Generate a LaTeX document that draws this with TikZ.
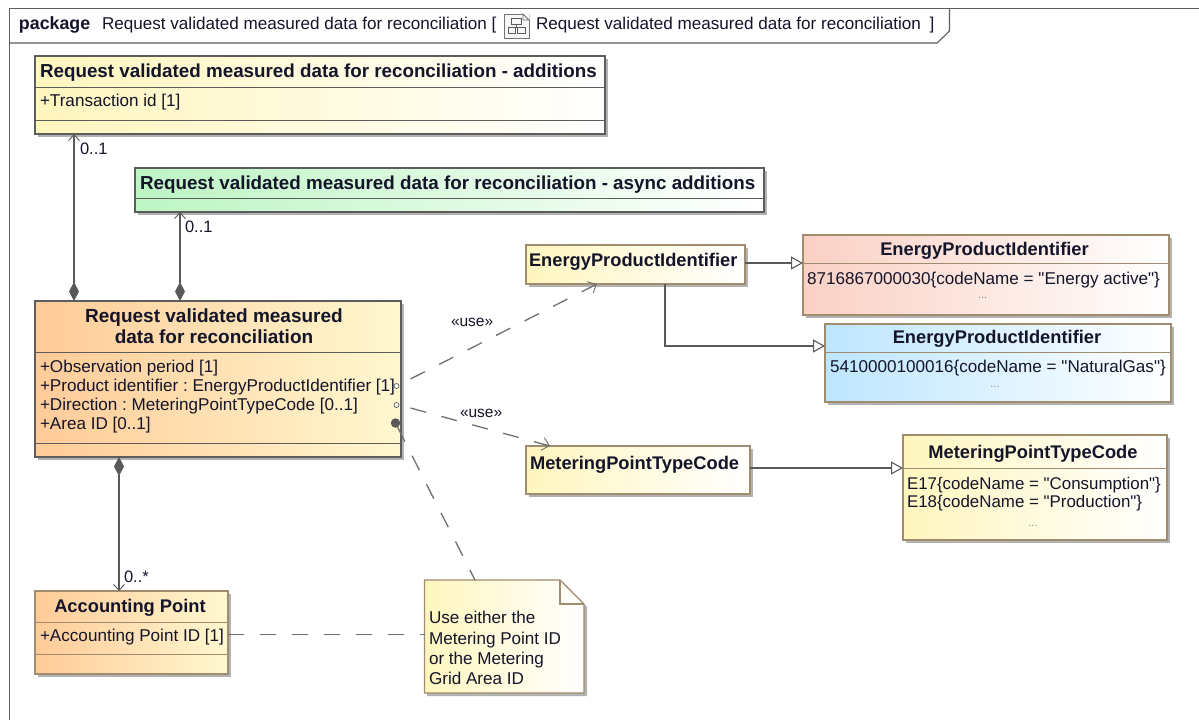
\documentclass[tikz,border=0pt]{standalone}
\usepackage{fontspec}
\setmainfont[Ligatures=TeXOff]{Liberation Sans}
\frenchspacing
\usetikzlibrary{arrows.meta,shadows,calc}
\definecolor{ink}{HTML}{14142A}
\definecolor{edgegray}{HTML}{5C5C5C}
\definecolor{edgetan}{HTML}{A08C6E}
\definecolor{conn}{HTML}{595959}
\definecolor{dashgray}{HTML}{707070}
\definecolor{yel}{HTML}{FFF6BE}
\definecolor{grn}{HTML}{BDF5C4}
\definecolor{org}{HTML}{FFCB98}
\definecolor{pale}{HTML}{FFF8D0}
\definecolor{red1}{HTML}{FAD0C4}
\definecolor{blu}{HTML}{BDE6FF}
\tikzset{
  x=1pt,y=-1pt,
  every node/.style={inner sep=0pt,outer sep=0pt,text=ink},
  umlbox/.style={draw=edgegray,line width=1.1pt,anchor=north west,
     general shadow={fill=black!30,shadow xshift=3pt,shadow yshift=-3pt}},
  tanbox/.style={umlbox,draw=edgetan},
  yelfill/.style={left color=yel,right color=white},
  grnfill/.style={left color=grn,right color=white},
  orgfill/.style={left color=org,right color=pale},
  redfill/.style={left color=red1,right color=white},
  blufill/.style={left color=blu,right color=white},
  sep/.style={edgegray,line width=1pt},
  tansep/.style={edgetan,line width=1pt},
  titletext/.style={font=\fontsize{18.8}{20.5}\selectfont\bfseries,anchor=base west},
  smalltitle/.style={font=\fontsize{18.3}{20.5}\selectfont\bfseries,anchor=base},
  bodytext/.style={font=\fontsize{17.1}{19}\selectfont,anchor=base west},
  multtext/.style={font=\fontsize{16.5}{19}\selectfont,anchor=base west},
  dotstext/.style={font=\fontsize{11}{13}\selectfont,text=black!45},
  assoc/.style={conn,line width=1.1pt},
  comp/.style={assoc,{Diamond[length=19pt,width=10pt,fill=conn]}-{Straight Barb[length=6pt,width=11pt,line width=0.9pt]}},
  usedep/.style={dashgray,line width=1.3pt,dash pattern=on 16pt off 16pt,-{Straight Barb[length=7pt,width=13pt,line width=0.9pt]}},
  notelink/.style={dashgray,line width=1.3pt,dash pattern=on 16pt off 16pt},
  gen/.style={assoc,-{Triangle[open,length=12pt,width=13pt,fill=white]}},
  port/.style={draw=edgegray,fill=white,circle,minimum size=5pt,line width=.7pt},
}
\begin{document}
\begin{tikzpicture}
\useasboundingbox (0,0) rectangle (1199,720);
\fill[white] (0,0) rectangle (1199,720);
% frame
\draw[edgegray,line width=1.1pt] (9.5,720) -- (9.5,8.5) -- (1199,8.5);
\draw[edgegray,line width=1.1pt] (9.5,43) -- (937,43) -- (949.5,31) -- (949.5,8.5);
\node[font=\fontsize{17.8}{20}\selectfont\bfseries,anchor=base west] (pkg) at (19,29) {package};
\node[bodytext] (pkgname) at (102,29) {Request validated measured data for reconciliation [};
\node[draw=black!55,fill=black!3,line width=.8pt,minimum width=25pt,minimum height=24pt] (icon) at (516.5,26) {};
\fill[white] (523,13.5) -- (529.5,13.5) -- (529.5,20) -- cycle;
\draw[black!55,line width=.8pt] (523,14) -- (523,20) -- (529,20) -- cycle;
\draw[edgegray,line width=.9pt] (511,18.5) rectangle (521,24) (508,27.5) rectangle (515.5,33) (517.5,27.5) rectangle (525,33) (516,24) -- (516,27.5);
\node[bodytext] (pkgdiag) at (536,29) {Request validated measured data for reconciliation \hspace{4pt}]};

% box 1
\node[umlbox,yelfill,minimum width=570pt,minimum height=78pt] (add) at (35,56) {};
\draw[sep] (add.west |- 0,87) -- (add.east |- 0,87);
\draw[sep] (add.west |- 0,120) -- (add.east |- 0,120);
\node[titletext] (addT) at (40,77) {Request validated measured data for reconciliation - additions};
\node[bodytext] (addA) at (40,106) {+Transaction id [1]};

% box 2
\node[umlbox,grnfill,minimum width=629pt,minimum height=44pt] (async) at (135,168) {};
\draw[sep] (async.west |- 0,198) -- (async.east |- 0,198);
\node[titletext] (asyncT) at (140,189) {Request validated measured data for reconciliation - async additions};

% main
\node[umlbox,orgfill,minimum width=366pt,minimum height=156pt] (main) at (35,301) {};
\draw[sep] (main.west |- 0,352) -- (main.east |- 0,352);
\draw[sep] (main.west |- 0,443) -- (main.east |- 0,443);
\node[titletext,anchor=base,font=\fontsize{19}{20.5}\selectfont\bfseries] (mainT1) at (214,322.7) {Request validated measured};
\node[titletext,anchor=base,font=\fontsize{19}{20.5}\selectfont\bfseries] (mainT2) at (214,343) {data for reconciliation};
\node[bodytext] (mA1) at (40,372) {+Observation period [1]};
\node[bodytext] (mA2) at (40,391) {+Product identifier : EnergyProductIdentifier [1]};
\node[bodytext] (mA3) at (40,410) {+Direction : MeteringPointTypeCode [0..1]};
\node[bodytext] (mA4) at (40,429) {+Area ID [0..1]};

% EPI small
\node[tanbox,yelfill,minimum width=219pt,minimum height=39pt] (epi) at (526,245) {};
\node[smalltitle,anchor=base west] (epiT) at (529,266) {EnergyProductIdentifier};
% red
\node[tanbox,redfill,minimum width=366pt,minimum height=80pt] (red) at (803,235) {};
\draw[tansep] (red.west |- 0,263) -- (red.east |- 0,263);
\node[smalltitle] (redT) at (984.5,255) {EnergyProductIdentifier};
\node[bodytext] (redV) at (807,284) {8716867000030\{codeName = "Energy active"\}};
\node[dotstext] (redD) at (982.7,298) {...};
% blue
\node[tanbox,blufill,minimum width=346pt,minimum height=78pt] (blue) at (825,324) {};
\draw[tansep] (blue.west |- 0,352) -- (blue.east |- 0,352);
\node[smalltitle] (blueT) at (997,343.3) {EnergyProductIdentifier};
\node[bodytext] (blueV) at (830,372.7) {5410000100016\{codeName = "NaturalGas"\}};
\node[dotstext] (blueD) at (995,386.7) {...};
% MPTC small
\node[tanbox,yelfill,minimum width=224pt,minimum height=48pt] (mp) at (526,446) {};
\node[smalltitle,anchor=base west] (mpT) at (530,469) {MeteringPointTypeCode};
% MPTC big
\node[tanbox,yelfill,minimum width=264pt,minimum height=105pt] (mpv) at (903,435) {};
\draw[tansep] (mpv.west |- 0,468) -- (mpv.east |- 0,468);
\node[smalltitle] (mpvT) at (1033,458) {MeteringPointTypeCode};
\node[bodytext,font=\fontsize{16.9}{19}\selectfont] (mpv1) at (907,489.3) {E17\{codeName = "Consumption"\}};
\node[bodytext,font=\fontsize{16.9}{19}\selectfont] (mpv2) at (907,507.7) {E18\{codeName = "Production"\}};
\node[dotstext] (mpvD) at (1033,526) {...};
% accounting point
\node[tanbox,orgfill,minimum width=193pt,minimum height=83pt] (ap) at (35,591) {};
\draw[tansep] (ap.west |- 0,622) -- (ap.east |- 0,622);
\draw[tansep] (ap.west |- 0,654) -- (ap.east |- 0,654);
\node[smalltitle] (apT) at (130,612.7) {Accounting Point};
\node[bodytext] (apA) at (40,641.7) {+Accounting Point ID [1]};

% note
\path[fill=black!30] (427,583) -- (564,583) -- (587,607) -- (587,696) -- (427,696) -- cycle;
\path[draw=edgetan,line width=1.1pt,left color=yel,right color=white] (424.5,580) -- (560,580) -- (584,604) -- (584,693) -- (424.5,693) -- cycle;
\draw[edgetan,line width=1.1pt] (560,580) -- (560,604) -- (584,604);
\node[bodytext] (note1) at (429,623.3) {Use either the};
\node[bodytext] (note2) at (429,644) {Metering Point ID};
\node[bodytext] (note3) at (429,664.5) {or the Metering};
\node[bodytext] (note4) at (429,684.5) {Grid Area ID};

% connectors
\coordinate (a1) at (74,301);
\coordinate (a2) at (180,301);
\coordinate (a3) at (119,457);
\draw[comp] (a1) -- (a1 |- add.south);
\draw[comp] (a2) -- (a2 |- async.south);
\draw[comp] (a3) -- (a3 |- ap.north);
\node[multtext] (m1) at (80,154) {0..1};
\node[multtext] (m2) at (185,232.3) {0..1};
\node[multtext] (m3) at (124,582) {0..*};

\node[port] (p1) at (396.5,386) {};
\node[port] (p2) at (396.5,405) {};
\node[circle,fill=conn,minimum size=9.5pt] (p3) at (395.5,423) {};
\coordinate (e1) at (597,284);
\coordinate (e2) at (550,446);
\coordinate (nt) at (475,580);
\coordinate (nl) at (424.5,634.5);
\draw[usedep] (p1) ++(14,-7) -- (e1);
\draw[usedep] (p2) ++(14,3) -- (e2);
\draw[notelink] (p3) -- (nt);
\draw[notelink] (ap.east |- nl) -- (nl);
\node[font=\fontsize{15.5}{18}\selectfont,anchor=base west] (u1) at (451,326) {«use»};
\node[font=\fontsize{15.5}{18}\selectfont,anchor=base west] (u2) at (460,417) {«use»};

\coordinate (g1) at (665,346);
\draw[gen] (epi.east |- 0,263) -- (red.west |- 0,263);
\draw[gen] (g1 |- epi.south) -- (g1) -- (g1 -| blue.west);
\draw[gen] (mp.east |- 0,468) -- (mpv.west |- 0,468);
\end{tikzpicture}
\end{document}
